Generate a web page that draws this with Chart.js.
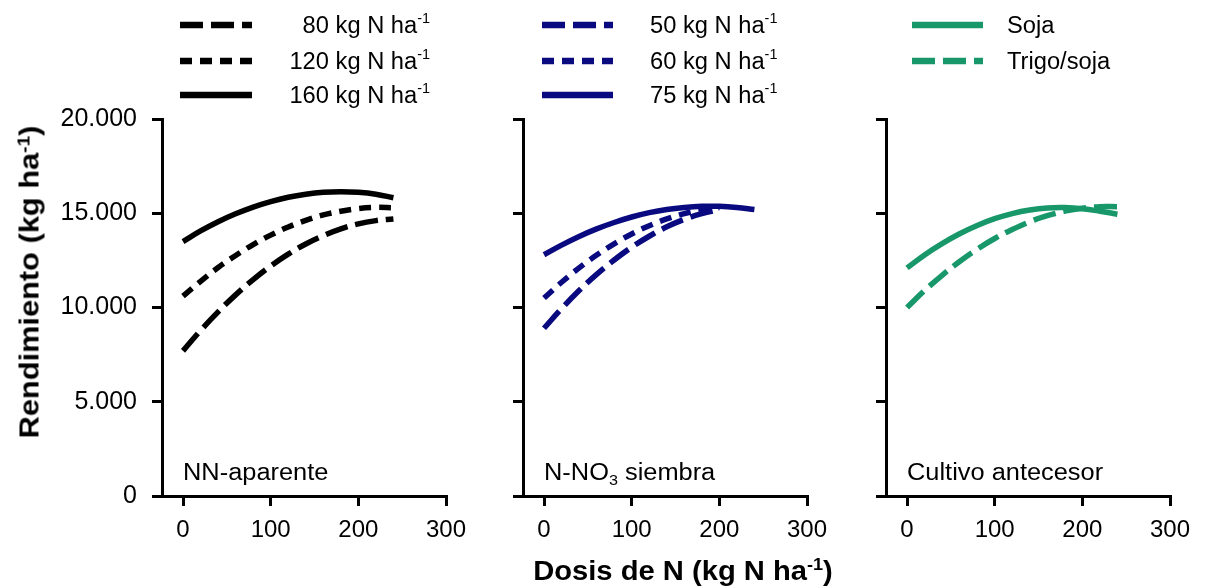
<!DOCTYPE html>
<html>
<head>
<meta charset="utf-8">
<script src="https://cdn.jsdelivr.net/npm/chart.js@4.4.1/dist/chart.umd.min.js"></script>
<style>
html,body{margin:0;padding:0;background:#fff;}
#wrap{position:relative;width:1210px;height:588px;overflow:hidden;background:#fff;font-family:"Liberation Sans",Arial,sans-serif;color:#000;}
canvas{position:absolute;left:0;top:0;}
.ytitle{position:absolute;left:30px;top:282px;transform:translate(-50%,-50%) rotate(-90deg) scaleX(1.14);font-weight:bold;font-size:27px;white-space:nowrap;}
.xtitle{position:absolute;left:683px;top:571px;transform:translate(-50%,-50%) scaleX(1.08);font-weight:bold;font-size:27px;white-space:nowrap;}
sup{font-size:62%;line-height:0;vertical-align:0.55em;}
</style>
</head>
<body>
<div id="wrap">
  <canvas id="c1" width="1210" height="588"></canvas>
  <canvas id="c2" width="1210" height="588"></canvas>
  <canvas id="c3" width="1210" height="588"></canvas>
  <div class="ytitle">Rendimiento (kg ha<sup>-1</sup>)</div>
  <div class="xtitle">Dosis de N (kg N ha<sup>-1</sup>)</div>
</div>
<script>
// ---- data ----
const doses = [0, 20, 40, 60, 80, 100, 120, 140, 160, 180, 200, 220, 240];

// Panel 1: NN-aparente
const nn80  = [7700, 8780, 9770, 10670, 11480, 12200, 12830, 13370, 13810, 14170, 14440, 14610, 14700];
const nn120 = [10600, 11390, 12120, 12760, 13340, 13840, 14270, 14620, 14910, 15110, 15250, 15310, 15290];
const nn160 = [13500, 14060, 14550, 14970, 15330, 15620, 15850, 16010, 16110, 16140, 16110, 16010, 15820];

// Panel 2: N-NO3 siembra
const no3_50 = [8900, 9940, 10900, 11760, 12520, 13200, 13780, 14280, 14680, 14980, 15200];
const no3_60 = [10500, 11340, 12100, 12780, 13380, 13900, 14340, 14700, 14980, 15180, 15300];
const no3_75 = [12800, 13310, 13770, 14170, 14510, 14800, 15030, 15200, 15310, 15370, 15370, 15310, 15200];

// Panel 3: Cultivo antecesor
const soja      = [12100, 12790, 13390, 13910, 14350, 14710, 14980, 15170, 15280, 15300, 15240, 15110, 14950];
const trigoSoja = [10000, 10900, 11710, 12440, 13090, 13660, 14140, 14550, 14870, 15110, 15270, 15350, 15350];

const xTicks = [0, 100, 200, 300];
const yTicks = [0, 5000, 10000, 15000, 20000];
const yTickLabels = ['0', '5.000', '10.000', '15.000', '20.000'];

const labels1 = ['80 kg N ha^-1', '120 kg N ha^-1', '160 kg N ha^-1'];
const labels2 = ['50 kg N ha^-1', '60 kg N ha^-1', '75 kg N ha^-1'];
const labels3 = ['Soja', 'Trigo/soja'];
const panelLabels = ['NN-aparente', 'N-NO_3 siembra', 'Cultivo antecesor'];

// ---- styling ----
const FONT = '"Liberation Sans", Arial, sans-serif';
const BLACK = '#000000', NAVY = '#0a0a80', GREEN = '#17976a';
const DASH = [23, 8], DOT = [12, 8];

function pts(ys) { return ys.map((y, i) => ({ x: doses[i], y: y })); }

function parseRich(s) {
  const parts = [];
  s.split(/(\^\S+|_\S+)/).forEach(p => {
    if (!p) return;
    if (p[0] === '^') parts.push({ t: p.slice(1), k: 'sup' });
    else if (p[0] === '_') parts.push({ t: p.slice(1), k: 'sub' });
    else parts.push({ t: p, k: 'n' });
  });
  return parts;
}
function drawRich(ctx, str, x, y, align, size, hs) {
  const parts = parseRich(str);
  const fontFor = k => (k === 'n' ? size : Math.round(size * 0.62)) + 'px ' + FONT;
  let w = 0;
  parts.forEach(p => { ctx.font = fontFor(p.k); p.w = ctx.measureText(p.t).width; w += p.w; });
  ctx.save();
  const startX = align === 'right' ? x - w * hs : x;
  ctx.translate(startX, y);
  ctx.scale(hs, 1);
  ctx.textAlign = 'left';
  ctx.textBaseline = 'alphabetic';
  ctx.fillStyle = '#000';
  let cx = 0;
  parts.forEach(p => {
    ctx.font = fontFor(p.k);
    const dy = p.k === 'sup' ? -size * 0.42 : (p.k === 'sub' ? size * 0.22 : 0);
    ctx.fillText(p.t, cx, dy);
    cx += p.w;
  });
  ctx.restore();
}

const richLegend = {
  id: 'richLegend',
  afterDraw(chart, args, opts) {
    const ctx = chart.ctx;
    ctx.save();
    chart.data.datasets.forEach((ds, i) => {
      const y = opts.rows[i];
      ctx.beginPath();
      ctx.setLineDash(ds.borderDash || []);
      ctx.lineWidth = 6.5;
      ctx.lineCap = 'butt';
      ctx.strokeStyle = ds.borderColor;
      ctx.moveTo(opts.x1, y);
      ctx.lineTo(opts.x2, y);
      ctx.stroke();
      ctx.setLineDash([]);
      drawRich(ctx, ds.label, opts.textX, y + 8, opts.align, 23, 1.03);
    });
    const px = chart.scales.x.getPixelForValue(0);
    drawRich(ctx, opts.panelLabel, px, 480, 'left', 23.5, 1.08);
    ctx.restore();
  }
};

function makePanel(id, left, right, yWidth, datasets, showY, legendOpts) {
  return new Chart(document.getElementById(id), {
    type: 'line',
    data: { datasets: datasets },
    plugins: [richLegend],
    options: {
      responsive: false,
      animation: false,
      events: [],
      layout: { padding: { left: left - yWidth, right: 1210 - right, top: 119, bottom: 32 } },
      elements: { point: { radius: 0 }, line: { borderWidth: 5.5, tension: 0.4, borderCapStyle: 'butt', fill: false } },
      plugins: { legend: { display: false }, tooltip: { enabled: false }, richLegend: legendOpts },
      scales: {
        x: {
          type: 'linear', min: -24, max: 300,
          afterBuildTicks: s => { s.ticks = xTicks.map(v => ({ value: v })); },
          afterFit: s => { s.height = 60; },
          grid: { drawOnChartArea: false, drawTicks: true, tickLength: 10, color: BLACK, lineWidth: 3, tickWidth: 3, tickColor: BLACK },
          border: { display: true, color: BLACK, width: 3 },
          ticks: { color: BLACK, font: { family: FONT, size: 24 }, padding: 10, maxRotation: 0, autoSkip: false }
        },
        y: {
          type: 'linear', min: 0, max: 20000,
          afterBuildTicks: s => { s.ticks = yTicks.map(v => ({ value: v })); },
          afterFit: s => { s.width = yWidth; },
          grid: { drawOnChartArea: false, drawTicks: true, tickLength: 10, color: BLACK, lineWidth: 3, tickWidth: 3, tickColor: BLACK },
          border: { display: true, color: BLACK, width: 3 },
          ticks: {
            display: showY, color: BLACK, font: { family: FONT, size: 25 }, padding: 15,
            callback: (v) => yTickLabels[yTicks.indexOf(v)]
          }
        }
      }
    }
  });
}

function ds(label, ys, color, dash) {
  return { label: label, data: pts(ys), borderColor: color, borderDash: dash, borderWidth: 5.5 };
}

makePanel('c1', 162, 446, 140, [
  ds(labels1[0], nn80, BLACK, DASH),
  ds(labels1[1], nn120, BLACK, DOT),
  ds(labels1[2], nn160, BLACK, [])
], true, { x1: 180, x2: 252, textX: 430, align: 'right', rows: [25, 61, 95], panelLabel: panelLabels[0] });

makePanel('c2', 523, 807, 20, [
  ds(labels2[0], no3_50, NAVY, DASH),
  ds(labels2[1], no3_60, NAVY, DOT),
  ds(labels2[2], no3_75, NAVY, [])
], false, { x1: 542, x2: 613, textX: 650, align: 'left', rows: [25, 61, 95], panelLabel: panelLabels[1] });

makePanel('c3', 886, 1170, 20, [
  ds(labels3[0], soja, GREEN, []),
  ds(labels3[1], trigoSoja, GREEN, DASH)
], false, { x1: 912, x2: 983, textX: 1007, align: 'left', rows: [25, 61], panelLabel: panelLabels[2] });
</script>
</body>
</html>
